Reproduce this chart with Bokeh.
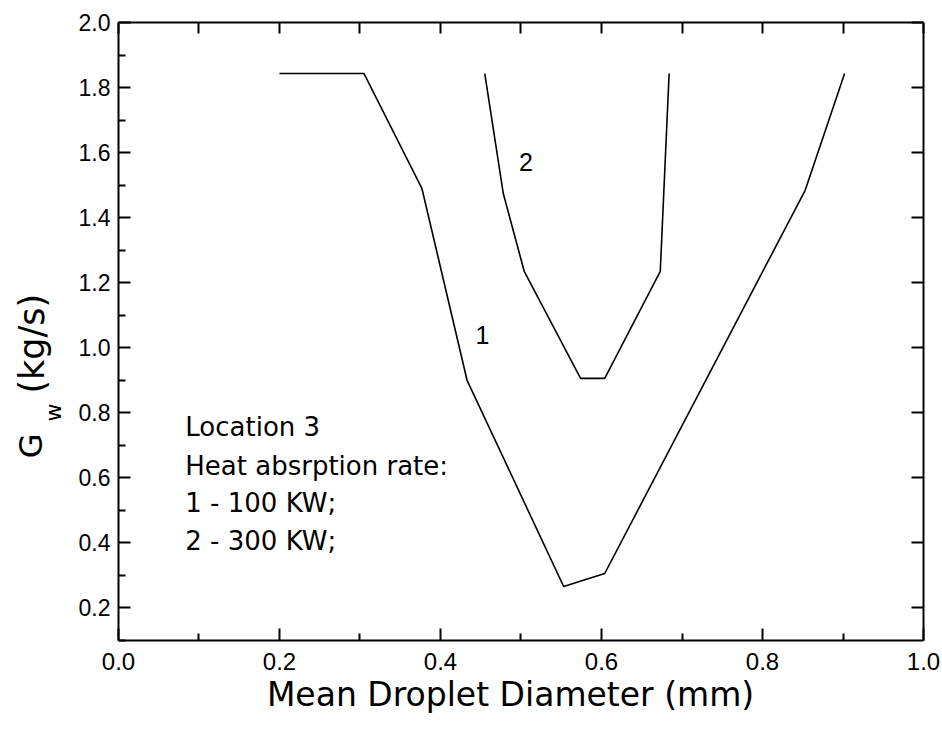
import numpy as np
from bokeh.plotting import figure
from bokeh.models import Range1d, LinearAxis, FixedTicker, Label, PrintfTickFormatter
from bokeh.embed import file_html
from bokeh.resources import INLINE

# ---- data ----
x_curve1 = [0.20, 0.305, 0.377, 0.433, 0.553, 0.604, 0.853, 0.902]
y_curve1 = [1.843, 1.843, 1.489, 0.900, 0.266, 0.306, 1.484, 1.843]

x_curve2 = [0.455, 0.478, 0.504, 0.574, 0.604, 0.673, 0.684]
y_curve2 = [1.843, 1.474, 1.235, 0.906, 0.906, 1.235, 1.843]

x_ticks = [0.0, 0.2, 0.4, 0.6, 0.8, 1.0]
x_minor = [0.1, 0.3, 0.5, 0.7, 0.9]
y_ticks = [0.2, 0.4, 0.6, 0.8, 1.0, 1.2, 1.4, 1.6, 1.8, 2.0]
y_minor = [0.1, 0.3, 0.5, 0.7, 0.9, 1.1, 1.3, 1.5, 1.7, 1.9]

note_lines = ["Location 3", "Heat absrption rate:", "1 - 100 KW;", "2 - 300 KW;"]
x_title = "Mean Droplet Diameter (mm)"

X0, X1 = 0.0, 1.0     # axis extent
Y0, Y1 = 0.1, 2.0

# the frame covers the whole page; axes are pinned at the data box edges
p = figure(frame_width=942, frame_height=741,
           x_range=Range1d(-0.14658, 1.0236), y_range=Range1d(-0.2105, 2.0676),
           x_axis_location=None, y_axis_location=None,
           output_backend="svg", toolbar_location=None, min_border=0,
           background_fill_color="white", border_fill_color="white")
p.grid.visible = False
p.outline_line_color = None

common = dict(axis_line_width=2, axis_line_color="black",
              major_tick_out=0, minor_tick_out=0,
              major_tick_line_width=2, minor_tick_line_width=2,
              major_tick_line_color="black", minor_tick_line_color="black")

# bottom axis
xa = LinearAxis(fixed_location=Y0, bounds=(X0, X1),
                ticker=FixedTicker(ticks=x_ticks, minor_ticks=x_minor),
                formatter=PrintfTickFormatter(format="%.1f"),
                major_tick_in=12, minor_tick_in=7, major_label_standoff=12,
                major_label_text_font="Liberation Sans", major_label_text_font_size="24px",
                major_label_text_color="black", **common)
p.add_layout(xa, "below")

# left axis
ya = LinearAxis(fixed_location=X0, bounds=(Y0, Y1),
                ticker=FixedTicker(ticks=y_ticks, minor_ticks=y_minor),
                formatter=PrintfTickFormatter(format="%.1f"),
                major_tick_in=12, minor_tick_in=7, major_label_standoff=8,
                major_label_text_font="Liberation Sans", major_label_text_font_size="23px",
                major_label_text_color="black", **common)
p.add_layout(ya, "left")

# top axis (ticks only)
top_ticks = sorted(x_minor + x_ticks)
ta = LinearAxis(fixed_location=Y1, bounds=(X0, X1),
                ticker=FixedTicker(ticks=top_ticks, minor_ticks=[]),
                major_label_overrides={t: "" for t in top_ticks},
                major_tick_in=11, minor_tick_in=0, major_label_standoff=0, **common)
p.add_layout(ta, "above")

# right axis (ticks only)
ra = LinearAxis(fixed_location=X1, bounds=(Y0, Y1),
                ticker=FixedTicker(ticks=y_ticks, minor_ticks=[]),
                major_label_overrides={t: "" for t in y_ticks},
                major_tick_in=12, minor_tick_in=0, major_label_standoff=0, **common)
p.add_layout(ra, "right")

# curves
p.line(x_curve1, y_curve1, line_color="black", line_width=1.6)
p.line(x_curve2, y_curve2, line_color="black", line_width=1.6)

# curve labels
p.add_layout(Label(x=0.452, y=1.038, text="1", text_align="center", text_baseline="middle",
                   text_font="Liberation Sans", text_font_size="25px", text_color="black"))
p.add_layout(Label(x=0.506, y=1.570, text="2", text_align="center", text_baseline="middle",
                   text_font="Liberation Sans", text_font_size="25px", text_color="black"))

# note block
note_y = [0.755, 0.638, 0.524, 0.407]
for t, yy in zip(note_lines, note_y):
    p.add_layout(Label(x=0.083, y=yy, text=t, text_align="left", text_baseline="alphabetic",
                       text_font="DejaVu Sans", text_font_size="26px", text_color="black"))

# x-axis title
p.add_layout(Label(x=0.487, y=-0.066, text=x_title, text_align="center", text_baseline="alphabetic",
                   text_font="DejaVu Sans", text_font_size="33px", text_color="black"))

# y-axis title: G_w (kg/s), rotated
p.add_layout(Label(x=-0.109, y=0.660, text="G", angle=np.pi / 2,
                   text_align="left", text_baseline="alphabetic",
                   text_font="DejaVu Sans", text_font_size="32px", text_color="black"))
p.add_layout(Label(x=-0.081, y=0.773, text="w", angle=np.pi / 2,
                   text_align="left", text_baseline="alphabetic",
                   text_font="DejaVu Sans", text_font_size="22px", text_color="black"))
p.add_layout(Label(x=-0.107, y=0.859, text="(kg/s)", angle=np.pi / 2,
                   text_align="left", text_baseline="alphabetic",
                   text_font="DejaVu Sans", text_font_size="35px", text_color="black"))

open("out.html", "w").write(file_html(p, INLINE))
